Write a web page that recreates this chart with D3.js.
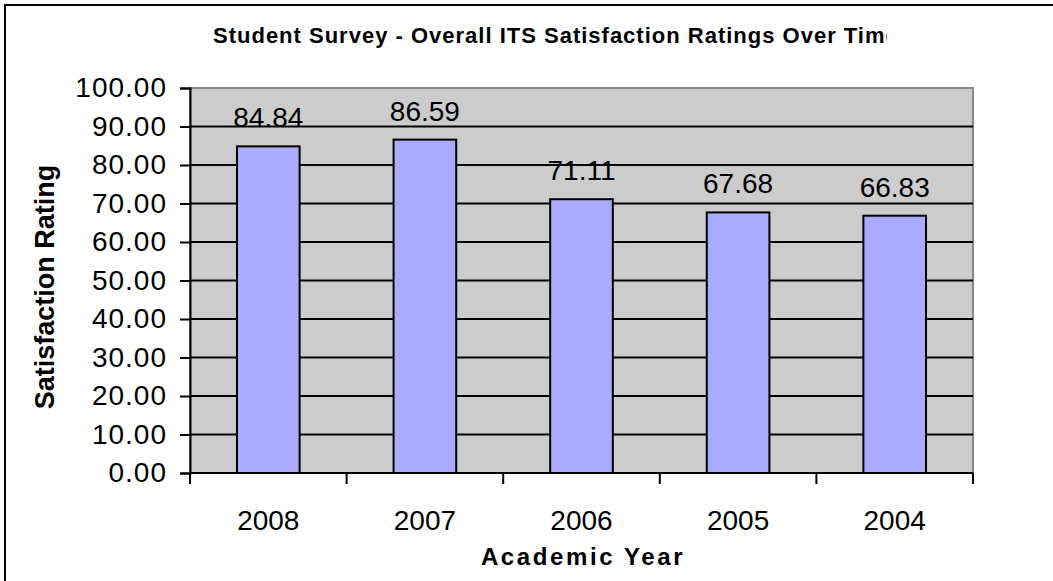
<!DOCTYPE html>
<html lang="en">
<head>
<meta charset="UTF-8">
<title>Student Survey</title>
<style>
	body { margin: 0; background: #fff; }
	text { font-family: "Liberation Sans", Arial, sans-serif; fill: #000; }
	.tick-label { font-size: 28px; }
	.bold { font-weight: bold; }
</style>
<script src="https://cdn.jsdelivr.net/npm/d3@7"></script>
</head>
<body>
<script>
var years = ["2008", "2007", "2006", "2005", "2004"];
var ratings = [84.84, 86.59, 71.11, 67.68, 66.83];
var yTicks = [0, 10, 20, 30, 40, 50, 60, 70, 80, 90, 100];

var W = 1053, H = 581;
var plot = {left: 190, right: 973, top: 88, bottom: 473};

var svg = d3.select("body").append("svg")
	.attr("width", W)
	.attr("height", H);

// outer frame (only left and top edges are visible)
svg.append("rect")
	.attr("x", 5).attr("y", 5)
	.attr("width", W + 10).attr("height", H + 10)
	.attr("fill", "#fff")
	.attr("stroke", "#000")
	.attr("stroke-width", 2);

var x = d3.scaleBand()
	.domain(years)
	.range([plot.left, plot.right])
	.paddingInner(0.6)
	.paddingOuter(0.3);

var y = d3.scaleLinear()
	.domain([0, 100])
	.range([plot.bottom, plot.top]);

// plot background
svg.append("rect")
	.attr("x", plot.left).attr("y", plot.top)
	.attr("width", plot.right - plot.left)
	.attr("height", plot.bottom - plot.top)
	.attr("fill", "#cccccc")
	.attr("stroke", "#888")
	.attr("stroke-width", 2);

// gridlines
svg.append("g").selectAll("line")
	.data(yTicks.filter(function(d) { return d > 0 && d < 100; }))
	.enter().append("line")
	.attr("x1", plot.left).attr("x2", plot.right)
	.attr("y1", function(d) { return y(d); })
	.attr("y2", function(d) { return y(d); })
	.attr("stroke", "#000")
	.attr("stroke-width", 2);

// bars
svg.append("g").selectAll("rect")
	.data(ratings)
	.enter().append("rect")
	.attr("x", function(d, i) { return x(years[i]); })
	.attr("y", function(d) { return y(d); })
	.attr("width", x.bandwidth())
	.attr("height", function(d) { return y(0) - y(d); })
	.attr("fill", "#aaaaff")
	.attr("stroke", "#000")
	.attr("stroke-width", 2);

// value labels
svg.append("g").selectAll("text")
	.data(ratings)
	.enter().append("text")
	.attr("class", "tick-label")
	.attr("x", function(d, i) { return x(years[i]) + x.bandwidth() / 2; })
	.attr("y", function(d) { return y(d) - 19; })
	.attr("text-anchor", "middle")
	.text(function(d) { return d.toFixed(2); });

// y axis
var yAxis = svg.append("g")
	.attr("transform", "translate(" + plot.left + ",0)")
	.call(d3.axisLeft(y).tickValues(yTicks).tickSize(10).tickPadding(13)
		.tickFormat(function(d) { return d.toFixed(2); }));
yAxis.select(".domain").attr("stroke", "#000").attr("stroke-width", 2);
yAxis.selectAll(".tick line").attr("stroke", "#000").attr("stroke-width", 2);
yAxis.selectAll(".tick text").attr("class", "tick-label").attr("font-size", null).attr("font-family", null)
	.attr("letter-spacing", 1);

// x axis: ticks at band edges
var edges = years.map(function(d) { return x(d) - x.step() * x.paddingInner() / 2; });
edges.push(plot.right);
var xAxis = svg.append("g");
xAxis.append("line")
	.attr("x1", plot.left).attr("x2", plot.right)
	.attr("y1", plot.bottom).attr("y2", plot.bottom)
	.attr("stroke", "#000").attr("stroke-width", 2);
xAxis.selectAll(".edge")
	.data(edges)
	.enter().append("line")
	.attr("x1", function(d) { return d; })
	.attr("x2", function(d) { return d; })
	.attr("y1", plot.bottom).attr("y2", plot.bottom + 11)
	.attr("stroke", "#000").attr("stroke-width", 2);
xAxis.selectAll(".year")
	.data(years)
	.enter().append("text")
	.attr("class", "tick-label")
	.attr("x", function(d) { return x(d) + x.bandwidth() / 2; })
	.attr("y", 530)
	.attr("text-anchor", "middle")
	.text(function(d) { return d; });

// titles
svg.append("clipPath").attr("id", "titleClip")
	.append("rect").attr("x", 0).attr("y", 0).attr("width", 887).attr("height", 80);
svg.append("text")
	.attr("class", "bold")
	.attr("clip-path", "url(#titleClip)")
	.attr("x", 213).attr("y", 43)
	.attr("font-size", 22)
	.attr("letter-spacing", 1)
	.text("Student Survey - Overall ITS Satisfaction Ratings Over Time");

svg.append("text")
	.attr("class", "bold")
	.attr("transform", "translate(54,287) rotate(-90)")
	.attr("text-anchor", "middle")
	.attr("font-size", 27)
	.text("Satisfaction Rating");

svg.append("text")
	.attr("class", "bold")
	.attr("x", 583).attr("y", 565)
	.attr("text-anchor", "middle")
	.attr("font-size", 24)
	.attr("letter-spacing", 2.6)
	.text("Academic Year");
</script>
</body>
</html>
